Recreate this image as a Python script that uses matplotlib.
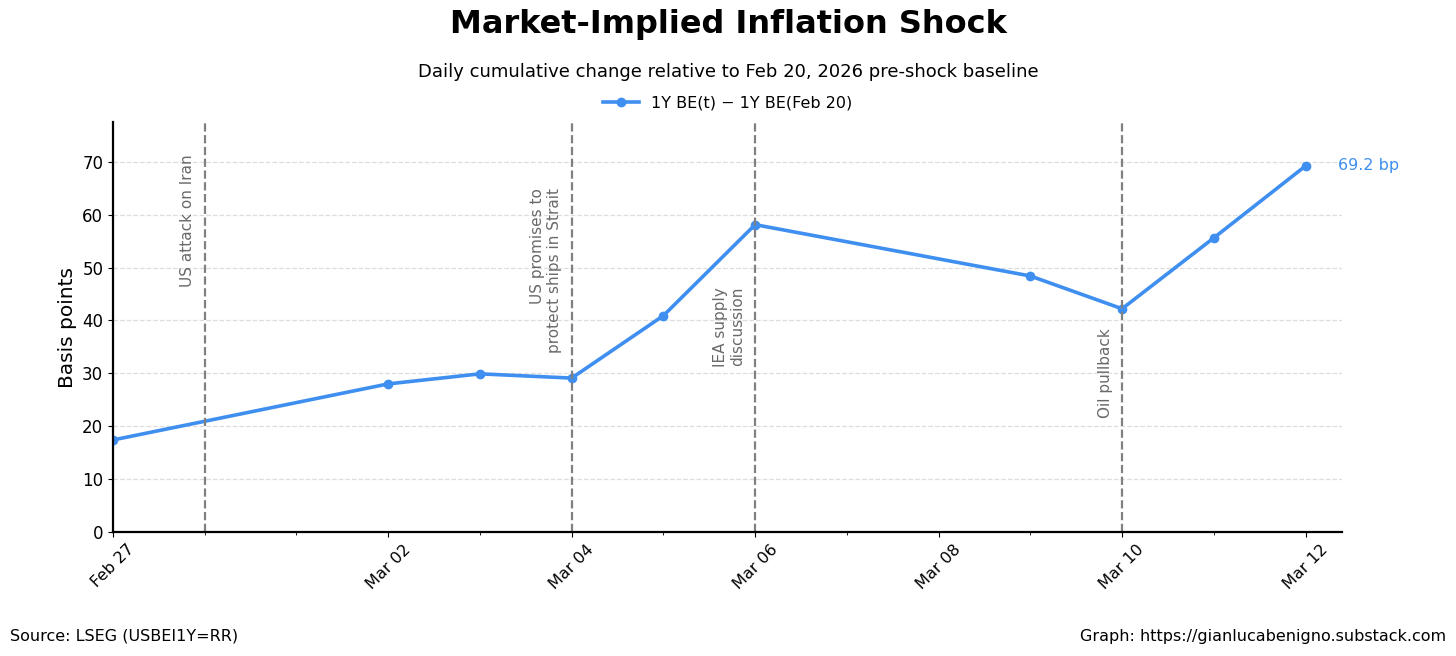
import numpy as np
import pandas as pd
import matplotlib
matplotlib.use("Agg")
import matplotlib.pyplot as plt
import matplotlib.dates as mdates

# 1Y breakeven change vs Feb 20 baseline, in bp
dates = pd.to_datetime(["2026-02-27", "2026-03-02", "2026-03-03", "2026-03-04",
                        "2026-03-05", "2026-03-06", "2026-03-09", "2026-03-10",
                        "2026-03-11", "2026-03-12"])
bp_change = [17.4, 28.0, 29.9, 29.1, 40.9, 58.1, 48.4, 42.2, 55.6, 69.2]

event_dates = pd.to_datetime(["2026-02-28", "2026-03-04", "2026-03-06", "2026-03-10"])
event_labels = ["US attack on Iran", "US promises to\nprotect ships in Strait",
                "IEA supply\ndiscussion", "Oil pullback"]
event_text_y = [71.3, 65.0, 46.3, 38.6]

tick_dates = pd.to_datetime(["2026-02-27", "2026-03-02", "2026-03-04", "2026-03-06",
                             "2026-03-08", "2026-03-10", "2026-03-12"])

blue = "#3f8ff0"

fig = plt.figure(figsize=(14.56, 6.56), dpi=100)
ax = fig.add_axes([0.0776, 0.189, 0.844, 0.625])

ax.plot(dates, bp_change, color=blue, lw=2.6, marker="o", ms=6,
        label="1Y BE(t) \u2212 1Y BE(Feb 20)")

for d, lab, ty in zip(event_dates, event_labels, event_text_y):
    ax.axvline(d, color="gray", ls="--", lw=1.6)
    ax.text(d - pd.Timedelta(hours=2.5), ty, lab, rotation=90, ha="right", va="top",
            color="dimgray", fontsize=11)

ax.text(dates[-1] + pd.Timedelta(hours=8.6), bp_change[-1], f"{bp_change[-1]:.1f} bp",
        color=blue, fontsize=11.5, ha="left", va="center")

ax.set_xlim(dates[0], dates[-1] + pd.Timedelta(hours=9.5))
ax.set_ylim(0, max(bp_change) * 1.12)
ax.set_xticks(tick_dates)
ax.xaxis.set_major_formatter(mdates.DateFormatter("%b %d"))
ax.xaxis.set_minor_locator(mdates.DayLocator())
plt.setp(ax.get_xticklabels(), rotation=45, fontsize=11.5)
ax.tick_params(axis="y", labelsize=12)
ax.set_ylabel("Basis points", fontsize=14.5)

ax.grid(axis="y", ls="--", color="#dddddd", lw=0.9)
ax.set_axisbelow(True)
for s in ["top", "right"]:
    ax.spines[s].set_visible(False)
for s in ["left", "bottom"]:
    ax.spines[s].set_linewidth(1.6)

fig.text(0.5, 0.962, "Market-Implied Inflation Shock", ha="center", va="center",
         fontsize=23, fontweight="bold")
fig.text(0.5, 0.89, "Daily cumulative change relative to Feb 20, 2026 pre-shock baseline",
         ha="center", va="center", fontsize=13)
fig.legend(loc="center", bbox_to_anchor=(0.5, 0.843), frameon=False, fontsize=11.5,
           handlelength=2.2)

fig.text(0.007, 0.03, "Source: LSEG (USBEI1Y=RR)", ha="left", va="center", fontsize=11.5)
fig.text(0.993, 0.03, "Graph: https://gianlucabenigno.substack.com", ha="right",
         va="center", fontsize=11.5)

fig.savefig("out.png", dpi=100)
